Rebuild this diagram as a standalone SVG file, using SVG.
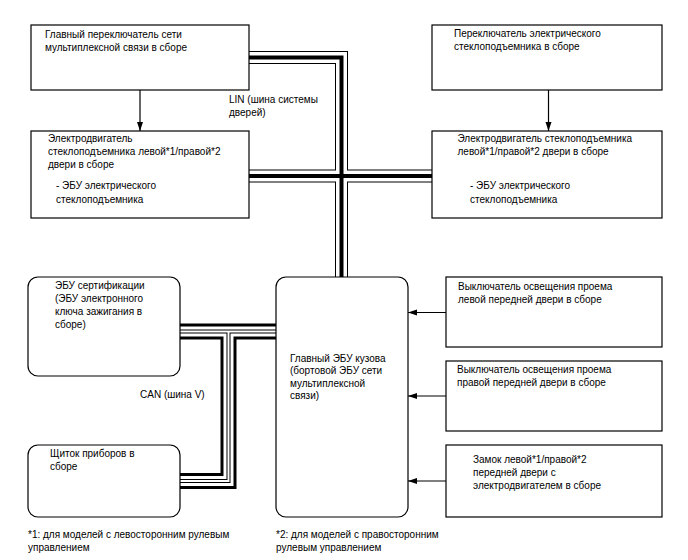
<svg xmlns="http://www.w3.org/2000/svg" width="688" height="560" viewBox="0 0 688 560">
<defs>
<marker id="ah" markerWidth="10" markerHeight="8" refX="9" refY="3.5" orient="auto" markerUnits="userSpaceOnUse">
<path d="M0,0.5 L9,3.5 L0,6.5 Z" fill="#000"/>
</marker>
<style>
.box{fill:#fff;stroke:#000;stroke-width:1.2}
text{font-family:"Liberation Sans",Arial,sans-serif;font-size:10px;fill:#000}
.arr{stroke:#000;stroke-width:1.2;fill:none}
.bus{fill:none;stroke-linejoin:miter;stroke-linecap:butt}
</style>
</defs>
<rect width="688" height="560" fill="#fff"/>
<g id="connectors">
<g id="lin-bus">
<path class="bus" stroke="#000" stroke-width="13" d="M249,57.5 H341.5 V277 M249,176 H432"/>
<path class="bus" stroke="#fff" stroke-width="11" d="M249,57.5 H341.5 V277 M249,176 H432"/>
<path class="bus" stroke="#000" stroke-width="4" d="M249,57.5 H341.5 V277 M249,176 H432"/>
</g>
<g id="can-bus">
<path class="bus" stroke="#000" stroke-width="16" d="M180,331.5 H276 M228.5,331.5 V481 H180"/>
<path class="bus" stroke="#fff" stroke-width="10" d="M180,331.5 H276 M228.5,331.5 V481 H180"/>
<path class="bus" stroke="#000" stroke-width="4" d="M180,331.5 H276 M228.5,331.5 V481 H180"/>
<path class="bus" stroke="#fff" stroke-width="2" d="M180,331.5 H276 M228.5,331.5 V481 H180"/>
</g>
<line class="arr" x1="140" y1="90" x2="140" y2="131" marker-end="url(#ah)"/>
<line class="arr" x1="548.5" y1="90" x2="548.5" y2="131" marker-end="url(#ah)"/>
<line class="arr" x1="446" y1="312.5" x2="408" y2="312.5" marker-end="url(#ah)"/>
<line class="arr" x1="446" y1="396" x2="408" y2="396" marker-end="url(#ah)"/>
<line class="arr" x1="446" y1="481" x2="408" y2="481" marker-end="url(#ah)"/>
<text x="229" y="103">LIN (шина системы</text>
<text x="229" y="116">дверей)</text>
<text x="140" y="398">CAN (шина V)</text>
</g>
<g id="main-switch">
<rect class="box" x="31" y="25" width="218" height="65"/>
<text x="45" y="38">Главный переключатель сети</text>
<text x="45" y="50.5">мультиплексной связи в сборе</text>
</g>
<g id="pw-switch">
<rect class="box" x="432" y="25" width="230" height="65"/>
<text x="454" y="37">Переключатель электрического</text>
<text x="454" y="49.5">стеклоподъемника в сборе</text>
</g>
<g id="left-motor">
<rect class="box" x="31" y="131" width="218" height="87"/>
<text x="48" y="141.5">Электродвигатель</text>
<text x="48" y="154.5">стеклоподъемника левой*1/правой*2</text>
<text x="48" y="167.5">двери в сборе</text>
<text x="56" y="189">- ЭБУ электрического</text>
<text x="56" y="203">стеклоподъемника</text>
</g>
<g id="right-motor">
<rect class="box" x="432" y="131" width="230" height="87"/>
<text x="457.5" y="141.5">Электродвигатель стеклоподъемника</text>
<text x="457.5" y="154.5">левой*1/правой*2 двери в сборе</text>
<text x="470" y="189">- ЭБУ электрического</text>
<text x="470" y="203">стеклоподъемника</text>
</g>
<g id="cert-ecu">
<rect class="box" x="28" y="277" width="152" height="99" rx="10"/>
<text x="55" y="289">ЭБУ сертификации</text>
<text x="55" y="302">(ЭБУ электронного</text>
<text x="55" y="315">ключа зажигания в</text>
<text x="55" y="328">сборе)</text>
</g>
<g id="meter">
<rect class="box" x="28" y="445" width="152" height="72" rx="10"/>
<text x="50" y="457">Щиток приборов в</text>
<text x="50" y="470">сборе</text>
</g>
<g id="body-ecu">
<rect class="box" x="276" y="277" width="132" height="240" rx="10"/>
<text x="290" y="361.5">Главный ЭБУ кузова</text>
<text x="290" y="374">(бортовой ЭБУ сети</text>
<text x="290" y="386.5">мультиплексной</text>
<text x="290" y="399">связи)</text>
</g>
<g id="courtesy-left">
<rect class="box" x="446" y="277" width="216" height="70"/>
<text x="458" y="289.5">Выключатель освещения проема</text>
<text x="458" y="302.5">левой передней двери в сборе</text>
</g>
<g id="courtesy-right">
<rect class="box" x="446" y="361" width="216" height="70"/>
<text x="457" y="373">Выключатель освещения проема</text>
<text x="457" y="386">правой передней двери в сборе</text>
</g>
<g id="door-lock">
<rect class="box" x="446" y="445" width="216" height="72"/>
<text x="473" y="463">Замок левой*1/правой*2</text>
<text x="473" y="475.5">передней двери с</text>
<text x="473" y="488.5">электродвигателем в сборе</text>
</g>
<g id="notes">
<text x="28" y="537.5">*1: для моделей с левосторонним рулевым</text>
<text x="28" y="550.5">управлением</text>
<text x="276" y="537.5">*2: для моделей с правосторонним</text>
<text x="276" y="550.5">рулевым управлением</text>
</g>
</svg>
